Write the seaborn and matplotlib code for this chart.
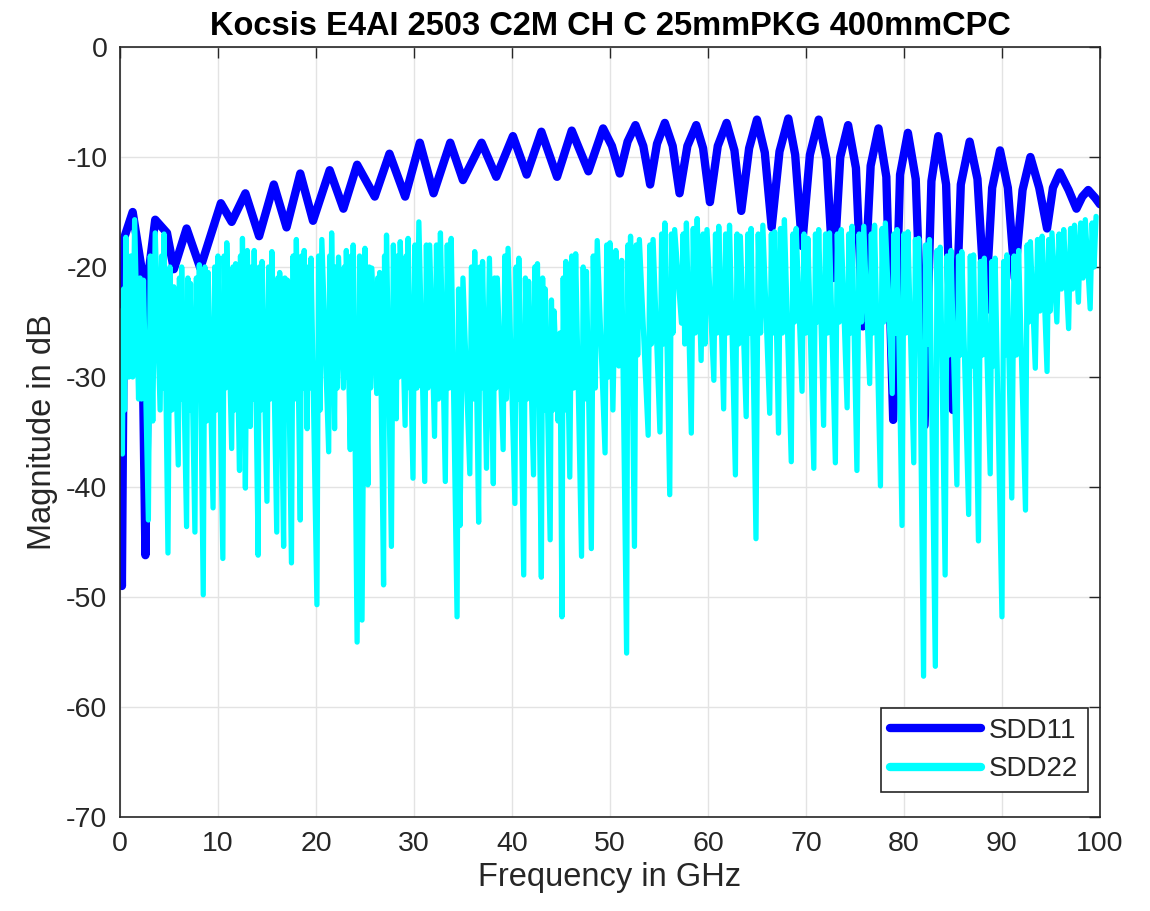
import numpy as np
import pandas as pd
import seaborn as sns
import matplotlib.pyplot as plt

# SDD11: extrema (and a few shoulder points)
sdd11_ghz = [0.0, 0.2, 0.45, 1.3, 2.2, 2.6, 3.0, 3.6, 4.8, 5.5, 6.8, 8.2, 10.3, 11.4,
             12.8, 14.2, 15.7, 17.0, 18.4, 19.7, 21.4, 22.8, 24.2, 26.0, 27.5, 29.1,
             30.6, 32.0, 33.7, 35.0, 36.9, 38.4, 40.1, 41.5, 43.0, 44.6, 46.1, 47.8,
             49.3, 50.2, 51.0, 51.8, 52.6, 53.4, 54.1, 54.8, 55.6, 56.4, 57.1, 57.9,
             58.8, 59.5, 60.2, 61.0, 61.9, 62.7, 63.4, 64.2, 65.0, 65.8, 66.5, 67.3,
             68.2, 68.9, 69.6, 70.4, 71.3, 72.1, 72.8, 73.5, 74.3, 75.1, 75.8, 76.6,
             77.4, 78.2, 78.9, 79.6, 80.4, 81.2, 82.1, 82.8, 83.5, 84.3, 85.0, 85.8,
             86.7, 87.5, 88.3, 89.0, 89.8, 90.6, 91.3, 92.1, 92.9, 93.8, 94.6, 95.2,
             95.9, 96.8, 97.6, 98.2, 98.8, 99.5, 100.0]
sdd11_db = [-30, -49, -17.3, -15.0, -20.1, -46.2, -20.0, -15.7, -16.9, -20.2, -16.5, -20.1,
            -14.2, -15.9, -13.3, -17.2, -12.5, -16.4, -11.5, -15.8, -11.2, -14.7, -10.7,
            -13.6, -9.7, -13.6, -8.7, -13.3, -8.7, -12.1, -8.7, -11.8, -8.1, -11.6, -7.7,
            -11.8, -7.6, -11.3, -7.4, -9.0, -11.5, -8.6, -7.1, -9.0, -12.5, -8.8, -6.9,
            -9.0, -13.3, -9.0, -7.1, -9.2, -14.1, -9.0, -6.9, -9.4, -14.9, -9.2, -6.6,
            -9.6, -16.4, -9.5, -6.5, -9.8, -18.1, -9.8, -6.6, -10.2, -21.0, -10.0, -7.1,
            -11.0, -25.4, -10.8, -7.4, -11.8, -33.9, -11.6, -7.8, -12.0, -34.4, -12.2,
            -8.1, -12.5, -33.0, -12.5, -8.6, -12.0, -24.0, -12.8, -9.4, -12.8, -21.0,
            -13.0, -10.0, -12.8, -16.5, -12.8, -11.4, -13.0, -14.7, -13.6, -13.0, -13.7,
            -14.3]

# SDD22: upper tips and notch bottoms
sdd22_peak_ghz = [0.05, 0.6, 1.5, 2.4, 3.6, 4.5, 5.5, 6.3, 7.2, 8.1, 9.0, 10.0, 10.9, 11.8,
                  12.5, 13.0, 13.7, 14.5, 15.5, 16.3, 17.1, 18.0, 18.8, 19.5, 20.6, 21.6,
                  22.3, 23.1, 23.8, 24.45, 25.0, 25.7, 26.5, 27.2, 27.9, 28.6, 29.4, 30.5,
                  31.6, 32.7, 33.8, 34.55, 35.0, 36.2, 37.0, 37.7, 38.5, 39.6, 40.7, 41.7,
                  42.6, 43.4, 44.3, 44.9, 45.5, 46.5, 47.6, 48.7, 50.0, 51.2, 52.1, 53.0,
                  54.4, 55.6, 56.6, 57.8, 58.9, 59.9, 61.1, 62.2, 63.3, 64.4, 65.6, 66.8,
                  67.8, 69.0, 70.2, 71.3, 72.4, 73.6, 74.7, 75.9, 77.0, 78.1, 79.3, 80.4,
                  81.5, 82.6, 83.7, 84.8, 85.9, 87.1, 88.2, 89.3, 90.5, 91.7, 92.9, 94.1,
                  95.1, 96.3, 97.4, 98.5, 99.6]
sdd22_peak_db = [-24.0, -17.3, -15.7, -21.2, -16.9, -17.0, -21.8, -20.0, -21.5, -19.8, -20.5,
                 -19.0, -17.8, -19.7, -17.4, -18.5, -18.5, -19.5, -18.6, -20.5, -21.2, -17.5,
                 -18.5, -19.2, -17.5, -16.9, -19.1, -18.5, -18.0, -19.0, -18.3, -20.1, -20.5,
                 -17.1, -18.0, -17.7, -17.4, -15.9, -18.0, -16.9, -17.4, -22.0, -21.0, -18.6,
                 -19.5, -19.2, -21.0, -18.3, -19.2, -21.3, -19.7, -22.0, -24.0, -26.0, -19.5,
                 -18.8, -20.4, -17.6, -17.8, -19.4, -17.2, -17.5, -17.5, -16.0, -16.6, -16.0,
                 -15.6, -16.6, -16.3, -16.2, -17.2, -16.5, -16.2, -16.8, -15.7, -16.5, -17.4,
                 -16.6, -16.9, -16.6, -16.3, -16.3, -16.2, -16.0, -16.6, -16.8, -17.4, -17.5,
                 -18.2, -18.5, -18.6, -18.9, -19.2, -19.2, -18.9, -18.5, -17.7, -17.2, -16.9,
                 -16.6, -16.2, -15.7, -15.4]
sdd22_dip_ghz = [0.25, 0.9, 1.9, 2.9, 4.1, 4.9, 5.95, 6.8, 7.65, 8.5, 9.5, 10.5, 11.4, 12.2,
                 12.8, 13.3, 14.1, 15.0, 16.0, 16.7, 17.5, 18.4, 19.1, 20.1, 21.3, 21.9,
                 22.8, 23.5, 24.2, 24.7, 25.3, 26.2, 26.9, 27.7, 28.2, 29.1, 29.9, 31.1,
                 32.1, 33.2, 34.4, 34.7, 35.7, 36.6, 37.4, 38.1, 39.1, 40.3, 41.2, 42.2,
                 43.0, 43.9, 44.7, 45.1, 45.9, 47.1, 48.1, 49.5, 50.3, 51.7, 52.5, 53.9,
                 55.1, 56.1, 57.3, 58.3, 59.3, 60.6, 61.6, 62.8, 63.9, 64.9, 66.3, 67.2,
                 68.5, 69.6, 70.8, 71.8, 73.0, 74.2, 75.2, 76.5, 77.6, 78.8, 79.8, 81.0,
                 82.0, 83.2, 84.2, 85.4, 86.6, 87.6, 88.8, 90.0, 91.0, 92.4, 93.4, 94.6,
                 95.6, 96.8, 97.8, 99.0]
sdd22_dip_db = [-37.0, -30.0, -32.0, -43.0, -33.0, -46.0, -38.0, -43.6, -44.1, -49.8, -41.9,
                -46.5, -36.5, -38.5, -40.1, -34.5, -46.2, -41.3, -44.1, -45.4, -46.9, -43.0,
                -34.7, -50.7, -36.8, -34.7, -31.0, -36.6, -54.1, -52.1, -39.8, -31.5, -48.9,
                -45.4, -33.8, -34.4, -39.2, -39.5, -35.4, -39.5, -51.8, -43.5, -38.8, -43.2,
                -38.3, -39.7, -36.6, -41.5, -48.0, -38.9, -48.2, -44.8, -34.0, -51.8, -39.1,
                -46.3, -45.6, -36.9, -33.0, -55.1, -45.4, -35.3, -35.0, -40.7, -25.1, -35.1,
                -28.5, -30.3, -32.9, -38.9, -33.6, -44.7, -33.3, -35.1, -37.7, -31.3, -38.3,
                -34.4, -37.8, -32.8, -38.5, -30.6, -39.9, -31.5, -43.5, -37.8, -57.2, -56.3,
                -48.0, -39.8, -42.5, -44.9, -38.8, -51.8, -41.0, -42.1, -29.2, -29.5, -25.0,
                -25.6, -23.2, -23.8]
# SDD22: the fast ripple inside the solid band (upper then lower point of each wiggle)
sdd22_ripple_ghz = [0.37, 0.48, 1.1, 1.3, 2.05, 2.2, 3.1, 3.35, 4.25, 4.38, 5.1, 5.3,
                    6.07, 6.18, 6.93, 7.07, 7.8, 7.95, 8.67, 8.83, 9.67, 9.83, 10.63, 10.77,
                    11.53, 11.67, 12.3, 12.4, 13.43, 13.57, 14.23, 14.37, 15.17, 15.33,
                    16.1, 16.2, 16.83, 16.97, 17.67, 17.83, 18.53, 18.67, 19.23, 19.37,
                    20.27, 20.43, 21.4, 21.5, 22.03, 22.17, 22.9, 23.0, 23.6, 23.7,
                    25.43, 25.57, 26.3, 26.4, 27.0, 27.1, 28.33, 28.47, 29.2, 29.3,
                    30.1, 30.3, 31.27, 31.43, 32.3, 32.5, 33.4, 33.6, 35.87, 36.03,
                    36.73, 36.87, 38.23, 38.37, 39.27, 39.43, 40.43, 40.57, 41.37, 41.53,
                    42.33, 42.47, 43.13, 43.27, 44.03, 44.17, 45.23, 45.37, 46.1, 46.3,
                    47.27, 47.43, 48.3, 48.5, 49.67, 49.83, 50.6, 50.9, 51.83, 51.97,
                    52.67, 52.83, 54.07, 54.23, 55.27, 55.43, 56.27, 56.43, 57.47, 57.63,
                    58.5, 58.7, 59.5, 59.7, 60.77, 60.93, 61.8, 62.0, 62.97, 63.13,
                    64.07, 64.23, 65.13, 65.37, 66.47, 66.63, 67.4, 67.6, 68.67, 68.83,
                    69.8, 70.0, 70.97, 71.13, 72.0, 72.2, 73.2, 73.4, 74.37, 74.53,
                    75.43, 75.67, 76.67, 76.83, 77.77, 77.93, 78.97, 79.13, 80.0, 80.2,
                    81.17, 81.33, 82.2, 82.4, 83.37, 83.53, 84.4, 84.6, 85.57, 85.73,
                    86.77, 86.93, 87.8, 88.0, 88.97, 89.13, 90.17, 90.33, 91.23, 91.47,
                    92.57, 92.73, 93.63, 93.87, 94.77, 94.93, 95.83, 96.07, 97.0, 97.2,
                    98.03, 98.27, 99.2, 99.4]
sdd22_ripple_db = [-22, -33, -19, -30, -21, -32, -19, -34, -19, -31, -20, -33,
                   -21, -32, -21, -33, -21, -32, -20, -34, -20, -33, -19, -31,
                   -20, -33, -19, -30, -20, -32, -20, -33, -20, -32,
                   -21, -31, -21, -33, -19, -32, -19, -31, -20, -31,
                   -19, -33, -19, -30, -20, -31, -20, -30, -19, -30,
                   -20, -31, -21, -30, -19, -32, -19, -30, -19, -31,
                   -18, -31, -18, -31, -18, -32, -18, -31, -20, -32,
                   -20, -31, -21, -31, -19, -32, -20, -32, -21, -32,
                   -20, -31, -21, -33, -23, -33, -21, -33, -19, -31,
                   -20, -32, -19, -31, -18, -30, -18.5, -29, -18, -28,
                   -18, -28, -18, -27, -17, -27, -17, -26, -17, -27,
                   -16.5, -26, -17, -27, -17, -26, -17, -26, -17, -27,
                   -17, -26, -17, -26, -17, -26, -16.5, -26, -17, -25,
                   -17, -26, -17, -25, -17, -26, -17, -25, -17, -26,
                   -17, -25, -17, -26, -16.5, -25, -17, -26, -17, -26,
                   -17.5, -26, -18, -27, -18.5, -27, -19, -28, -19, -28,
                   -19, -29, -19.5, -28, -19.5, -29, -19.5, -28, -19, -28,
                   -18, -25, -17.5, -24, -17.5, -24, -17, -22, -16.5, -22,
                   -16, -21, -16, -20]

x_ticks = list(range(0, 101, 10))
y_ticks = list(range(-70, 1, 10))

sdd11 = pd.DataFrame({"ghz": sdd11_ghz, "db": sdd11_db})
sdd22 = pd.DataFrame({"ghz": sdd22_peak_ghz + sdd22_dip_ghz + sdd22_ripple_ghz,
                      "db": sdd22_peak_db + sdd22_dip_db + sdd22_ripple_db}).sort_values("ghz")

sns.set_style("white")
plt.rcParams['font.family'] = ['Liberation Sans', 'DejaVu Sans']
plt.rcParams['axes.unicode_minus'] = False

fig = plt.figure(figsize=(11.5, 9.11), dpi=100)
ax = fig.add_axes([0.1043, 0.1032, 0.8522, 0.8452])

sns.lineplot(data=sdd11, x="ghz", y="db", ax=ax, color="#0000ff", lw=6,
             estimator=None, sort=False, label="SDD11")
sns.lineplot(data=sdd22, x="ghz", y="db", ax=ax, color="#00ffff", lw=3.8,
             estimator=None, sort=False, label="SDD22")

ax.set_xlim(0, 100)
ax.set_ylim(-70, 0)
ax.set_xticks(x_ticks)
ax.set_yticks(y_ticks)
ax.grid(True, color="#e3e3e3", lw=1.0)
ax.set_axisbelow(True)
ax.tick_params(direction="in", length=8, width=1, top=True, right=True,
               labelsize=20.5, colors="#262626")
ax.tick_params(axis="y", pad=9)
ax.tick_params(axis="x", pad=10)
for s in ax.spines.values():
    s.set_color("#262626")
    s.set_linewidth(1.2)

ax.set_xlabel("Frequency in GHz", fontsize=23.5, color="#262626", labelpad=4)
ax.set_ylabel("Magnitude in dB", fontsize=23.5, color="#262626", labelpad=6)
ax.set_title("Kocsis E4AI 2503 C2M CH C 25mmPKG 400mmCPC", fontsize=23.5,
             fontweight="bold", pad=9, color="black")

leg = ax.legend(loc="lower right", bbox_to_anchor=(0.9878, 0.0325), borderaxespad=0,
                fontsize=20, handlelength=3.25, fancybox=False, framealpha=1,
                edgecolor="#262626", borderpad=0.35, labelspacing=0.45, handletextpad=0.3)
leg.get_frame().set_linewidth(1.2)
for line in leg.get_lines():
    line.set_linewidth(6)

fig.savefig("out.png", dpi=100)
